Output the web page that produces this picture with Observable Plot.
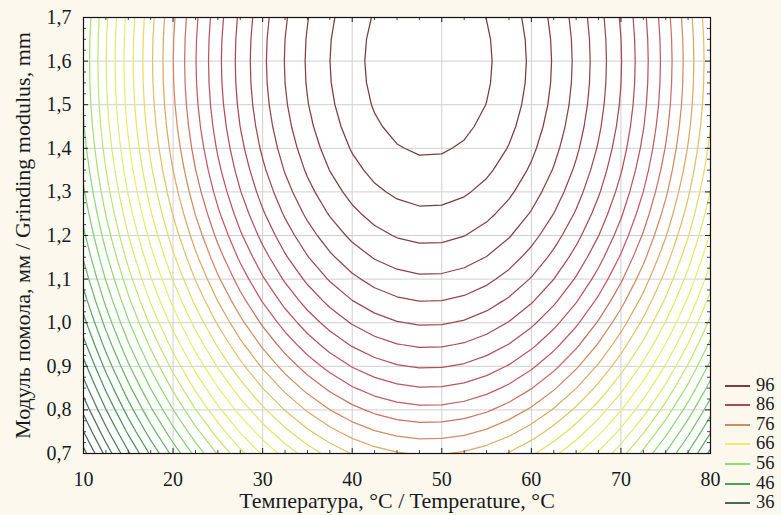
<!DOCTYPE html>
<html>
<head>
<meta charset="utf-8">
<script src="https://cdn.jsdelivr.net/npm/d3@7"></script>
<script src="https://cdn.jsdelivr.net/npm/@observablehq/plot@0.6"></script>
<style>
  html, body { margin: 0; padding: 0; background: #fcf8ed; }
  #wrap { position: relative; width: 781px; height: 515px; font-family: "Liberation Serif", "Times New Roman", serif; color: #1a1a1a; }
  .lg { position: absolute; left: 725px; height: 19px; line-height: 19px; font-size: 18.5px; white-space: nowrap; }
  .lg .sw { position: absolute; left: 0; top: 9px; width: 25px; height: 2px; }
  .lg .tx { position: absolute; left: 31px; top: 0; }
</style>
</head>
<body>
<div id="wrap"></div>
<script>
const temperatures = [5, 7.5, 10, 12.5, 15, 17.5, 20, 22.5, 25, 27.5, 30, 32.5, 35, 37.5, 40, 42.5, 45, 47.5, 50, 52.5, 55, 57.5, 60, 62.5, 65, 67.5, 70, 72.5, 75, 77.5, 80, 82.5, 85];
const temperatureLoss = [54.85, 48.72, 42.96, 37.57, 32.53, 27.86, 23.54, 19.59, 16.01, 12.78, 9.92, 7.42, 5.28, 3.51, 2.09, 1.04, 0.36, 0.03, 0.07, 0.46, 1.22, 2.35, 3.83, 5.68, 7.89, 10.46, 13.40, 16.70, 20.36, 24.38, 28.76, 33.51, 38.62];
// Grinding modulus samples (mm) and the loss of the response along the modulus
const moduli = [0.6, 0.65, 0.7, 0.75, 0.8, 0.85, 0.9, 0.95, 1.0, 1.05, 1.1, 1.15, 1.2, 1.25, 1.3, 1.35, 1.4, 1.45, 1.5, 1.55, 1.6, 1.65, 1.7, 1.75, 1.8];
const modulusLoss = [31.25, 28.20, 25.31, 22.58, 20.00, 17.58, 15.31, 13.20, 11.25, 9.45, 7.81, 6.33, 5.00, 3.83, 2.81, 1.95, 1.25, 0.70, 0.31, 0.08, 0.00, 0.08, 0.31, 0.70, 1.25];
const peakValue = 99.5;

const contourLevels = [32, 34, 36, 38, 40, 42, 44, 46, 48, 50, 52, 54, 56, 58, 60, 62, 64, 66, 68, 70, 72, 74, 76, 78, 80, 82, 84, 86, 88, 90, 92, 94, 96, 98];
const legendLevels = [96, 86, 76, 66, 56, 46, 36];
// colour stops of the line colour map
const colorStops = [36, 46, 56, 62, 66, 70, 74, 77, 80, 86, 96];
const colorRange = ["#4a665a", "#4f9f5c", "#8edc72", "#d6ec70", "#eeec6c", "#ecd868", "#dca864", "#cf7c62", "#c45a66", "#a84858", "#7a3c42"];

const xTicks = [10, 20, 30, 40, 50, 60, 70, 80];
const yTicks = [0.7, 0.8, 0.9, 1.0, 1.1, 1.2, 1.3, 1.4, 1.5, 1.6, 1.7];
const xMinor = [12.5, 15, 17.5, 22.5, 25, 27.5, 32.5, 35, 37.5, 42.5, 45, 47.5, 52.5, 55, 57.5, 62.5, 65, 67.5, 72.5, 75, 77.5];
const yMinor = [0.725, 0.75, 0.775, 0.825, 0.85, 0.875, 0.925, 0.95, 0.975, 1.025, 1.05, 1.075, 1.125, 1.15, 1.175, 1.225, 1.25, 1.275, 1.325, 1.35, 1.375, 1.425, 1.45, 1.475, 1.525, 1.55, 1.575, 1.625, 1.65, 1.675];

const xLabel = "Температура, °C / Temperature, °C";
const yLabel = "Модуль помола, мм / Grinding modulus, mm";

// Grid table for the contour computation (rows = moduli ascending, columns = temperatures)
const W = temperatures.length, H = moduli.length;
const grid = [];
for (let j = 0; j < H; j++) for (let i = 0; i < W; i++) grid.push(peakValue - temperatureLoss[i] - modulusLoss[j]);
const dT = temperatures[1] - temperatures[0], dM = moduli[1] - moduli[0];

// Contour rings as line data in data coordinates (T, M)
function contourPoints() {
  const gen = d3.contours().size([W, H]).smooth(true);
  const pts = [];
  let ring = 0;
  for (const t of contourLevels) {
    const c = gen.contour(grid, t);
    for (const poly of c.coordinates) {
      for (const r of poly) {
        for (const [px, py] of r) {
          pts.push({ T: temperatures[0] + (px - 0.5) * dT, M: moduli[0] + (py - 0.5) * dM, level: t, ring });
        }
        ring++;
      }
    }
  }
  return pts;
}

const width = 781, height = 515;
const mL = 83, mR = 71, mT = 17, mB = 62;
const fw = width - mL - mR, fh = height - mT - mB;
const fmt = d => d.toFixed(1).replace(".", ",");

function makeChart(manual) {
  const contourMark = manual
    ? Plot.line(contourPoints(), { x: "T", y: "M", z: "ring", stroke: "level", strokeWidth: 1.25, clip: true, curve: "linear" })
    : Plot.contour(grid, {
        width: W, height: H,
        x1: temperatures[0] - dT / 2, x2: temperatures[W - 1] + dT / 2,
        y1: moduli[0] - dM / 2, y2: moduli[H - 1] + dM / 2,
        stroke: Plot.identity,
        thresholds: contourLevels, strokeWidth: 1.25, clip: true
      });
  return Plot.plot({
    width, height,
    marginLeft: mL, marginRight: mR, marginTop: mT, marginBottom: mB,
    style: { background: "transparent", fontFamily: "'Liberation Serif','Times New Roman',serif", fontSize: "20px", color: "#1a1a1a" },
    x: { domain: [10, 80] },
    y: { domain: [0.7, 1.7] },
    color: { type: "linear", domain: colorStops, range: colorRange, clamp: true },
    marks: [
      Plot.frame({ fill: "white", stroke: null }),
      Plot.gridX(xTicks, { stroke: "#cfcfcf", strokeOpacity: 1 }),
      Plot.gridY(yTicks, { stroke: "#cfcfcf", strokeOpacity: 1 }),
      contourMark,
      Plot.tickX(xTicks, { x: d => d, insetTop: fh - 5, stroke: "#222" }),
      Plot.tickX(xTicks, { x: d => d, insetBottom: fh - 5, stroke: "#222" }),
      Plot.tickX(xMinor, { x: d => d, insetTop: fh - 3, stroke: "#444" }),
      Plot.tickX(xMinor, { x: d => d, insetBottom: fh - 3, stroke: "#444" }),
      Plot.tickY(yTicks, { y: d => d, insetRight: fw - 5, stroke: "#222" }),
      Plot.tickY(yTicks, { y: d => d, insetLeft: fw - 5, stroke: "#222" }),
      Plot.tickY(yMinor, { y: d => d, insetRight: fw - 3, stroke: "#444" }),
      Plot.tickY(yMinor, { y: d => d, insetLeft: fw - 3, stroke: "#444" }),
      Plot.frame({ stroke: "#111", strokeWidth: 1.2 }),
      Plot.axisX(xTicks, { tickSize: 0, tickPadding: 18, label: null, fontSize: 20 }),
      Plot.axisY(yTicks, { tickSize: 0, tickPadding: 12, tickFormat: fmt, label: null, fontSize: 20 }),
      Plot.text([xLabel], { text: d => d, frameAnchor: "bottom", dy: 47, lineAnchor: "middle", textAnchor: "middle", fontSize: 22 }),
      Plot.text([yLabel], { text: d => d, frameAnchor: "left", dx: -61, rotate: -90, lineAnchor: "middle", textAnchor: "middle", fontSize: 22 })
    ]
  });
}

let chart;
try {
  chart = makeChart(false);
  const paths = [...chart.querySelectorAll('g[aria-label="contour"] path')].filter(p => (p.getAttribute("d") || "").length > 20);
  if (paths.length < 5) chart = makeChart(true);
} catch (e) {
  chart = makeChart(true);
}

const wrap = document.getElementById("wrap");
wrap.appendChild(chart);

const colorScale = chart.scale("color");
const legendTop = 375.5, legendStep = 19.6;
legendLevels.forEach((lv, k) => {
  const row = document.createElement("div");
  row.className = "lg";
  row.style.top = (legendTop + k * legendStep) + "px";
  const sw = document.createElement("span");
  sw.className = "sw";
  sw.style.background = colorScale.apply(lv);
  const tx = document.createElement("span");
  tx.className = "tx";
  tx.textContent = lv;
  row.appendChild(sw); row.appendChild(tx);
  wrap.appendChild(row);
});
</script>
</body>
</html>
